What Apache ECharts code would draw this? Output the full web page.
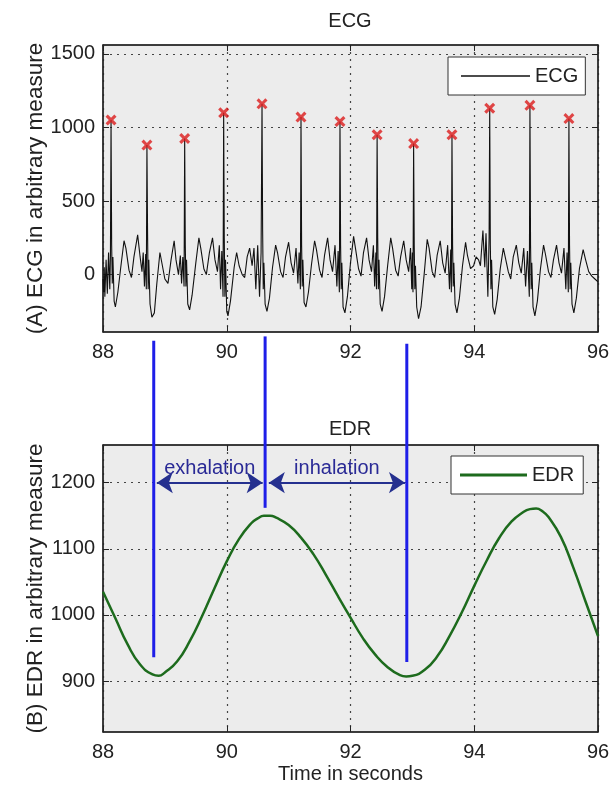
<!DOCTYPE html>
<html>
<head>
<meta charset="utf-8">
<title>ECG and EDR</title>
<script src="https://cdn.jsdelivr.net/npm/echarts@6/dist/echarts.min.js"></script>
<style>
  html, body { margin: 0; padding: 0; background: #fff; }
  #chart { width: 616px; height: 790px; }
</style>
</head>
<body>
<div id="chart"></div>
<script>
// values
const xTicks = [88, 90, 92, 94, 96];
const ecgTicks = [0, 500, 1000, 1500];
const edrTicks = [900, 1000, 1100, 1200];

// detected R peaks (red crosses)
const rPeakTimes = [88.13, 88.71, 89.32, 89.95, 90.57, 91.20, 91.83, 92.43, 93.02, 93.64, 94.25, 94.90, 95.53];
const rPeakValues = [1050, 880, 925, 1100, 1160, 1070, 1040, 950, 890, 950, 1130, 1150, 1060];

// ECG trace, [time s, value]
const ecgTrace = [
  [88.00, -30], [88.01, -120], [88.02, 50], [88.03, -150], [88.05, 100], [88.07, -130], [88.09, 150], [88.11, -100], [88.12, 120],
  [88.13, 1050],
  [88.14, 200], [88.15, -60], [88.16, 120], [88.18, -180], [88.20, -220], [88.24, -120], [88.29, 60], [88.34, 230], [88.37, 180],
  [88.42, 30], [88.46, -20], [88.50, 120], [88.56, 270], [88.60, 120], [88.63, 20], [88.65, 150], [88.67, -80], [88.69, 140], [88.70, -100],
  [88.71, 880],
  [88.72, 300], [88.73, -100], [88.74, 100], [88.76, -200], [88.79, -290], [88.83, -260], [88.87, -60], [88.92, 150], [88.95, 140],
  [89.00, -30], [89.05, -60], [89.10, 100], [89.15, 230], [89.18, 100], [89.22, 0], [89.25, 130], [89.27, -60], [89.29, 120], [89.31, -80],
  [89.32, 925],
  [89.33, 200], [89.34, -80], [89.35, 100], [89.37, -200], [89.40, -240], [89.44, -140], [89.50, 80], [89.55, 250], [89.58, 180],
  [89.63, 40], [89.67, 0], [89.72, 150], [89.77, 250], [89.81, 100], [89.85, 20], [89.88, 200], [89.90, -100], [89.92, 160], [89.94, -150],
  [89.95, 1100],
  [89.96, 250], [89.97, -150], [89.98, 100], [90.00, -250], [90.02, -280], [90.06, -180], [90.12, 50], [90.16, 150], [90.20, 60],
  [90.25, 0], [90.29, -20], [90.33, 120], [90.37, 180], [90.41, 60], [90.44, 180], [90.47, -100], [90.50, 200], [90.53, -150], [90.555, 150],
  [90.57, 1160],
  [90.58, 300], [90.59, -100], [90.60, 80], [90.62, -200], [90.65, -250], [90.69, -160], [90.74, 50], [90.79, 200], [90.82, 150],
  [90.87, 20], [90.91, -20], [90.95, 120], [91.00, 220], [91.04, 80], [91.08, 10], [91.12, 180], [91.15, -60], [91.17, 150], [91.19, -100],
  [91.20, 1070],
  [91.21, 200], [91.22, -80], [91.23, 100], [91.25, -190], [91.28, -220], [91.32, -120], [91.37, 70], [91.42, 230], [91.45, 170],
  [91.50, 30], [91.54, -20], [91.58, 130], [91.63, 250], [91.67, 100], [91.71, 20], [91.75, 200], [91.78, -80], [91.80, 160], [91.82, -120],
  [91.83, 1040],
  [91.84, 200], [91.85, -100], [91.86, 80], [91.88, -220], [91.91, -260], [91.95, -150], [92.00, 80], [92.05, 260], [92.08, 180],
  [92.13, 40], [92.17, -10], [92.21, 150], [92.26, 250], [92.30, 100], [92.34, 20], [92.37, 200], [92.39, -80], [92.41, 150], [92.42, -100],
  [92.43, 950],
  [92.44, 250], [92.45, -100], [92.46, 100], [92.48, -200], [92.51, -250], [92.55, -150], [92.60, 60], [92.65, 250], [92.68, 180],
  [92.73, 30], [92.77, -10], [92.81, 120], [92.86, 230], [92.90, 100], [92.94, 20], [92.97, 180], [92.99, -100], [93.00, 150], [93.01, -120],
  [93.02, 890],
  [93.03, 200], [93.04, -100], [93.05, 60], [93.07, -220], [93.10, -300], [93.14, -220], [93.19, 0], [93.24, 240], [93.27, 180],
  [93.32, 20], [93.36, -20], [93.40, 130], [93.45, 230], [93.49, 80], [93.53, 10], [93.57, 200], [93.60, -100], [93.62, 170], [93.63, -120],
  [93.64, 950],
  [93.65, 200], [93.66, -80], [93.67, 80], [93.69, -200], [93.72, -260], [93.76, -160], [93.81, 60], [93.86, 220], [93.89, 130],
  [93.94, 40], [93.99, 60], [94.03, 120], [94.07, 100], [94.10, 60], [94.14, 300], [94.17, 50], [94.19, 280], [94.22, -150], [94.24, 250],
  [94.25, 1130],
  [94.26, 200], [94.27, -100], [94.28, 100], [94.30, -220], [94.33, -270], [94.37, -170], [94.42, 40], [94.47, 180], [94.50, 120],
  [94.55, 20], [94.59, -30], [94.63, 120], [94.68, 200], [94.72, 80], [94.76, 10], [94.80, 180], [94.83, -80], [94.86, 160], [94.89, -150],
  [94.90, 1150],
  [94.91, 200], [94.92, -100], [94.93, 80], [94.95, -220], [94.98, -280], [95.02, -180], [95.07, 40], [95.12, 200], [95.15, 140],
  [95.20, 20], [95.24, -20], [95.28, 100], [95.33, 200], [95.37, 80], [95.41, 10], [95.45, 180], [95.48, -100], [95.50, 150], [95.52, -120],
  [95.53, 1060],
  [95.54, 200], [95.55, -100], [95.56, 80], [95.58, -200], [95.61, -260], [95.65, -160], [95.70, 40], [95.76, 170], [95.80, 100],
  [95.85, 20], [95.90, -10], [95.95, -30], [96.00, -50]
];

// EDR curve
const edrTimes = [88.0, 88.2, 88.4, 88.6, 88.8, 88.9, 89.0, 89.2, 89.4, 89.6, 89.8, 90.0, 90.2, 90.4, 90.5, 90.6, 90.7, 90.8,
  91.0, 91.2, 91.4, 91.6, 91.8, 92.0, 92.2, 92.4, 92.6, 92.8, 92.9, 93.0, 93.2, 93.4, 93.6, 93.8,
  94.0, 94.2, 94.4, 94.6, 94.8, 94.9, 95.0, 95.1, 95.2, 95.4, 95.6, 95.8, 96.0];
const edrValues = [1035, 995, 955, 925, 910, 908, 913, 930, 960, 998, 1040, 1081, 1115, 1139, 1146, 1150, 1150, 1147,
  1136, 1117, 1092, 1061, 1028, 996, 965, 940, 921, 909, 907, 908, 917, 937, 968, 1004,
  1044, 1082, 1116, 1141, 1156, 1160, 1161, 1157, 1148, 1118, 1072, 1020, 968];

// blue breath markers: time, start (ECG units, below the top axes), end (EDR units)
const breathTimes = [88.82, 90.62, 92.91];
const breathTopEcg = [-450, -420, -470];
const breathBottomEdr = [936, 1162, 929];

// breathing phase arrows
const phaseLabels = ['exhalation', 'inhalation'];
const phaseStart = [88.87, 90.68];
const phaseEnd = [90.58, 92.88];
const phaseLevel = 1200;

const FONT = '"Liberation Sans", Arial, sans-serif';
const TEXT = '#222';
const dotted = { type: [2, 5], color: '#444', width: 1.2 };
const xCross = 'path://M0,2L2,0L5,3L8,0L10,2L7,5L10,8L8,10L5,7L2,10L0,8L3,5Z';
const plain = (v) => String(v);

function mainX(gridIndex, extra) {
  return Object.assign({
    type: 'value', gridIndex, min: 88, max: 96, interval: 2,
    axisLine: { show: true, onZero: false, lineStyle: { color: TEXT, width: 1.5 } },
    axisTick: { show: true, inside: true, length: 6, lineStyle: { color: TEXT } },
    axisLabel: { fontSize: 20, fontFamily: FONT, color: TEXT, margin: 10, formatter: plain },
    splitLine: { show: true, lineStyle: dotted }
  }, extra || {});
}

function mainY(gridIndex, min, max, ticks, name) {
  return {
    type: 'value', gridIndex, min, max,
    name, nameLocation: 'middle', nameGap: 56, nameMoveOverlap: false,
    nameTextStyle: { fontSize: 22.5, fontFamily: FONT, color: TEXT },
    axisLine: { show: true, onZero: false, lineStyle: { color: TEXT, width: 1.5 } },
    axisTick: { show: true, inside: true, length: 6, customValues: ticks, lineStyle: { color: TEXT } },
    axisLabel: { fontSize: 20, fontFamily: FONT, color: TEXT, margin: 8, customValues: ticks, formatter: plain },
    splitLine: { show: true, lineStyle: dotted }
  };
}

// mirrored frame axes (MATLAB box with ticks on all sides)
function mirrorX(gridIndex) {
  return {
    type: 'value', gridIndex, min: 88, max: 96, interval: 2, position: 'top',
    axisLine: { show: true, onZero: false, lineStyle: { color: TEXT, width: 1.5 } },
    axisTick: { show: true, inside: true, length: 6, lineStyle: { color: TEXT } },
    axisLabel: { show: false }, splitLine: { show: false }
  };
}
function mirrorY(gridIndex, min, max, ticks) {
  return {
    type: 'value', gridIndex, min, max, position: 'right',
    axisLine: { show: true, onZero: false, lineStyle: { color: TEXT, width: 1.5 } },
    axisTick: { show: true, inside: true, length: 6, customValues: ticks, lineStyle: { color: TEXT } },
    axisLabel: { show: false, customValues: ticks }, splitLine: { show: false }
  };
}

const legendBase = {
  orient: 'horizontal', selectedMode: false,
  backgroundColor: '#fff', borderColor: '#333', borderWidth: 1, borderRadius: 0,
  icon: 'rect',
  textStyle: { fontSize: 20, fontFamily: FONT, color: TEXT }
};

const chart = echarts.init(document.getElementById('chart'), null, { renderer: 'canvas' });

const option = {
  animation: false,
  backgroundColor: '#fff',
  title: [
    { text: 'ECG', left: 350, top: 11, textAlign: 'center', padding: 0,
      textStyle: { fontSize: 20, fontWeight: 'normal', fontFamily: FONT, color: TEXT } },
    { text: 'EDR', left: 350, top: 419, textAlign: 'center', padding: 0,
      textStyle: { fontSize: 20, fontWeight: 'normal', fontFamily: FONT, color: TEXT } }
  ],
  legend: [
    Object.assign({}, legendBase, { data: ['ECG'], left: 448, top: 57, itemWidth: 69, itemHeight: 1.6,
      padding: [9, 7, 9, 13] }),
    Object.assign({}, legendBase, { data: ['EDR'], left: 451, top: 456, itemWidth: 67, itemHeight: 3,
      padding: [9, 9, 9, 9] })
  ],
  grid: [
    { left: 103, top: 45, width: 495, height: 287, show: true, backgroundColor: '#ececec', borderColor: TEXT, borderWidth: 1 },
    { left: 103, top: 445, width: 495, height: 287, show: true, backgroundColor: '#ececec', borderColor: TEXT, borderWidth: 1 }
  ],
  xAxis: [
    mainX(0),
    mainX(1, { name: 'Time in seconds', nameLocation: 'middle', nameGap: 32, nameMoveOverlap: false,
      nameTextStyle: { fontSize: 20, fontFamily: FONT, color: TEXT } }),
    mirrorX(0),
    mirrorX(1)
  ],
  yAxis: [
    mainY(0, -390, 1560, ecgTicks, '(A) ECG in arbitrary measure'),
    mainY(1, 823, 1257, edrTicks, '(B) EDR in arbitrary measure'),
    mirrorY(0, -390, 1560, ecgTicks),
    mirrorY(1, 823, 1257, edrTicks)
  ],
  series: [
    {
      name: 'ECG', type: 'line', xAxisIndex: 0, yAxisIndex: 0,
      data: ecgTrace, symbol: 'none',
      lineStyle: { color: '#111', width: 1.1 }, itemStyle: { color: '#111' }
    },
    {
      name: 'R peaks', type: 'scatter', xAxisIndex: 0, yAxisIndex: 0,
      data: rPeakTimes.map((t, i) => [t, rPeakValues[i]]),
      symbol: xCross, symbolSize: 11, itemStyle: { color: '#dc1c1c' }, z: 5
    },
    {
      name: 'EDR', type: 'line', xAxisIndex: 1, yAxisIndex: 1,
      data: edrTimes.map((t, i) => [t, edrValues[i]]),
      symbol: 'none', smooth: true,
      lineStyle: { color: '#1d6b1d', width: 2.5 }, itemStyle: { color: '#1d6b1d' },
      markLine: {
        silent: true,
        symbol: ['arrow', 'arrow'],
        symbolSize: 16,
        lineStyle: { color: '#25308f', width: 2, type: 'solid' },
        emphasis: { disabled: true },
        label: {
          show: true, position: 'insideMiddleTop', distance: 4,
          fontSize: 20, fontFamily: FONT, color: '#2a2a96',
          formatter: (p) => p.name
        },
        data: phaseLabels.map((name, i) => [
          { name, coord: [phaseStart[i], phaseLevel] },
          { coord: [phaseEnd[i], phaseLevel] }
        ])
      }
    }
  ]
};

chart.setOption(option);

// the blue breath markers run from under the ECG axes down into the EDR axes
const breathLines = breathTimes.map((t, i) => {
  const top = chart.convertToPixel({ xAxisIndex: 0, yAxisIndex: 0 }, [t, breathTopEcg[i]]);
  const bottom = chart.convertToPixel({ xAxisIndex: 1, yAxisIndex: 1 }, [t, breathBottomEdr[i]]);
  return {
    type: 'line', z: 100,
    shape: { x1: top[0], y1: top[1], x2: bottom[0], y2: bottom[1] },
    style: { stroke: '#1e1ee8', lineWidth: 3 }
  };
});
chart.setOption({ graphic: breathLines });
</script>
</body>
</html>
